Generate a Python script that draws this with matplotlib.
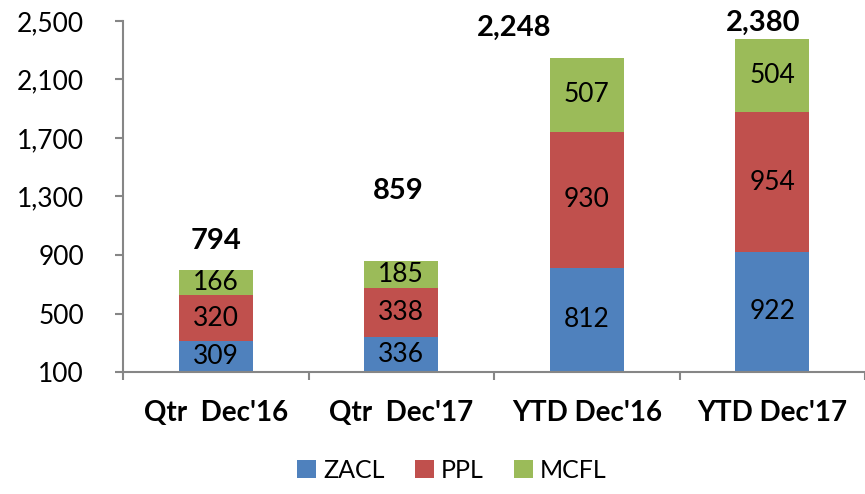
import numpy as np
import matplotlib.pyplot as plt
from matplotlib.ticker import FuncFormatter

plt.rcParams['font.family'] = ['Lato', 'DejaVu Sans']

categories = ["Qtr  Dec'16", "Qtr  Dec'17", "YTD Dec'16", "YTD Dec'17"]
zacl = np.array([309, 336, 812, 922])
ppl = np.array([320, 338, 930, 954])
mcfl = np.array([166, 185, 507, 504])
totals = np.array([794, 859, 2248, 2380])

colors = ['#4F81BD', '#C0504D', '#9BBB59']
axis_grey = '#868686'
y_min = 100

fig = plt.figure(figsize=(8.65, 4.94), dpi=100)
ax = fig.add_axes([123/865, 1 - 372/494, 742/865, 351/494])

x = np.arange(len(categories))
w = 0.4
bottom = np.zeros(len(categories))
for vals, name, c in zip([zacl, ppl, mcfl], ['ZACL', 'PPL', 'MCFL'], colors):
    ax.bar(x, vals, w, bottom=bottom, color=c, label=name, zorder=2)
    for xi, b, v in zip(x, bottom, vals):
        # label sits in the middle of the visible part of the segment
        yc = (max(b, y_min) + b + v) / 2
        ax.text(xi, yc, f'{v}', ha='center', va='center', fontsize=19, zorder=3)
    bottom = bottom + vals

# totals placed by hand in the original, offsets in pixels
dx = [0, -3, -73, -9]
dy = [30, 70, 30, 16]
for xi, t, ox, oy in zip(x, totals, dx, dy):
    ax.annotate(f'{t:,}', (xi, t), xytext=(ox * 0.72, oy * 0.72), textcoords='offset points',
                ha='center', va='center', fontsize=21, fontweight='bold')

ax.set_ylim(y_min, 2500)
ax.set_yticks([100, 500, 900, 1300, 1700, 2100, 2500])
ax.yaxis.set_major_formatter(FuncFormatter(lambda v, p: f'{int(v):,}'))
ax.set_xlim(-0.5, 3.5 - 8 / 188)

ax.set_xticks(np.arange(-0.5, 4, 1))
ax.set_xticklabels([])
ax.set_xticks(x, minor=True)
ax.set_xticklabels(categories, minor=True, fontsize=20, fontweight='bold')
ax.tick_params(axis='x', which='minor', length=0, pad=20)
ax.tick_params(axis='x', which='major', length=6, color=axis_grey, width=1.5)
ax.tick_params(axis='y', length=6, color=axis_grey, width=1.5, labelsize=19, pad=22)

for s in ['top', 'right']:
    ax.spines[s].set_visible(False)
for s in ['left', 'bottom']:
    ax.spines[s].set_color(axis_grey)
    ax.spines[s].set_linewidth(1.5)

fig.legend(loc='center', bbox_to_anchor=(452/865, 1 - 470/494), ncol=3, frameon=False,
           fontsize=18, handlelength=0.75, handleheight=0.75, handletextpad=0.3,
           columnspacing=1.2)

fig.savefig('out.png', dpi=100)
